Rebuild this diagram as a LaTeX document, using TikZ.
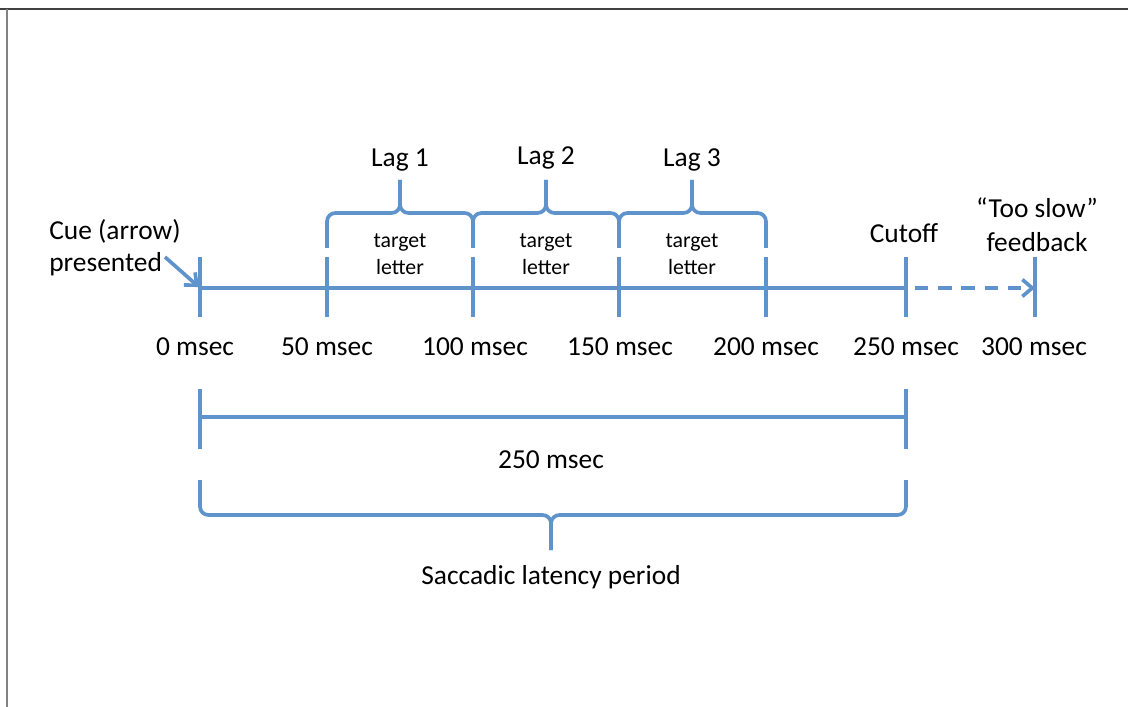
\documentclass[tikz,border=0pt]{standalone}
\usepackage{fontspec}
\setmainfont{Carlito}
\usetikzlibrary{arrows.meta, positioning, calc}
\definecolor{timeBlue}{RGB}{95,147,204}
\definecolor{frameGray}{RGB}{130,130,130}

\begin{document}
\begin{tikzpicture}[
    x=0.025cm, y=-0.025cm,
    every node/.style={font=\fontsize{19.5}{23.5}\selectfont, inner sep=0pt},
    axis/.style={draw=timeBlue, line width=2.6pt},
    timetick/.style={draw=timeBlue, line width=2.6pt},
    lagbrace/.style={draw=timeBlue, line width=2.6pt, rounded corners=6pt},
    cuearrow/.style={-{Straight Barb[length=7pt, width=12pt]}, draw=timeBlue, line width=2.6pt},
    late/.style={cuearrow, dash pattern=on 9.5pt off 7pt},
    lettertext/.style={font=\fontsize{15.5}{19.2}\selectfont, align=center},
    twoline/.style={align=center, font=\fontsize{19.5}{24}\selectfont},
]
\useasboundingbox (0,0) rectangle (1128,707);
% frame of the slide
\draw[frameGray!50!black, line width=1.8pt] (0,9) -- (1128,9);
\draw[frameGray, line width=1.8pt] (7,9) -- (7,707);

% time axis
\coordinate (t0) at (200,288);
\coordinate (t50) at (327,288);
\coordinate (t100) at (473,288);
\coordinate (t150) at (619,288);
\coordinate (t200) at (766,288);
\coordinate (t250) at (906,288);
\coordinate (t300) at (1035,288);
\draw[axis] (t0) -- (t250);
\foreach \t in {t0,t50,t100,t150,t200,t250,t300}
  \draw[timetick] (\t) ++(0,-31) -- ++(0,60);
\draw[late] ($(t250)+(9,0)$) -- (t300);

\node[anchor=west, align=left, font=\fontsize{19.5}{23}\selectfont] (cue) at (49,248) {Cue (arrow)\\presented};
\coordinate (cuetail) at (165,257);
\draw[cuearrow, shorten >=1pt] (cuetail) -- (t0);

\node (m0) at (195,347) {0 msec};
\node (m50) at (327,347) {50 msec};
\node (m100) at (475,347) {100 msec};
\node (m150) at (620,347) {150 msec};
\node (m200) at (766,347) {200 msec};
\node (m250) at (906,347) {250 msec};
\node (m300) at (1034,347) {300 msec};

% lag braces
\draw[lagbrace] (327,248) -- (327,213) -- (400,213) -- (400,180);
\draw[lagbrace] (473,248) -- (473,213) -- (400,213) -- (400,180);
\draw[lagbrace] (473,248) -- (473,213) -- (546,213) -- (546,180);
\draw[lagbrace] (619,248) -- (619,213) -- (546,213) -- (546,180);
\draw[lagbrace] (619,248) -- (619,213) -- (692,213) -- (692,180);
\draw[lagbrace] (766,248) -- (766,213) -- (692,213) -- (692,180);
\node (lag1) at (400,160) {Lag 1};
\node (lag2) at (546,158) {Lag 2};
\node (lag3) at (692,160) {Lag 3};
\node[lettertext] (tl1) at (400,254) {target\\letter};
\node[lettertext] (tl2) at (546,254) {target\\letter};
\node[lettertext] (tl3) at (692,254) {target\\letter};

\node (cutoff) at (904,233) {Cutoff};
\node[twoline] (slow) at (1037,225) {“Too slow”\\feedback};

% latency span
\draw[axis] (200,417) -- (906,417);
\draw[timetick] (200,389) -- (200,449);
\draw[timetick] (906,389) -- (906,449);
\node (span) at (551,460) {250 msec};
\draw[lagbrace] (200,480) -- (200,515) -- (551,515) -- (551,550);
\draw[lagbrace] (906,480) -- (906,515) -- (551,515) -- (551,550);
\node (latency) at (551,577) {Saccadic latency period};
\end{tikzpicture}
\end{document}
